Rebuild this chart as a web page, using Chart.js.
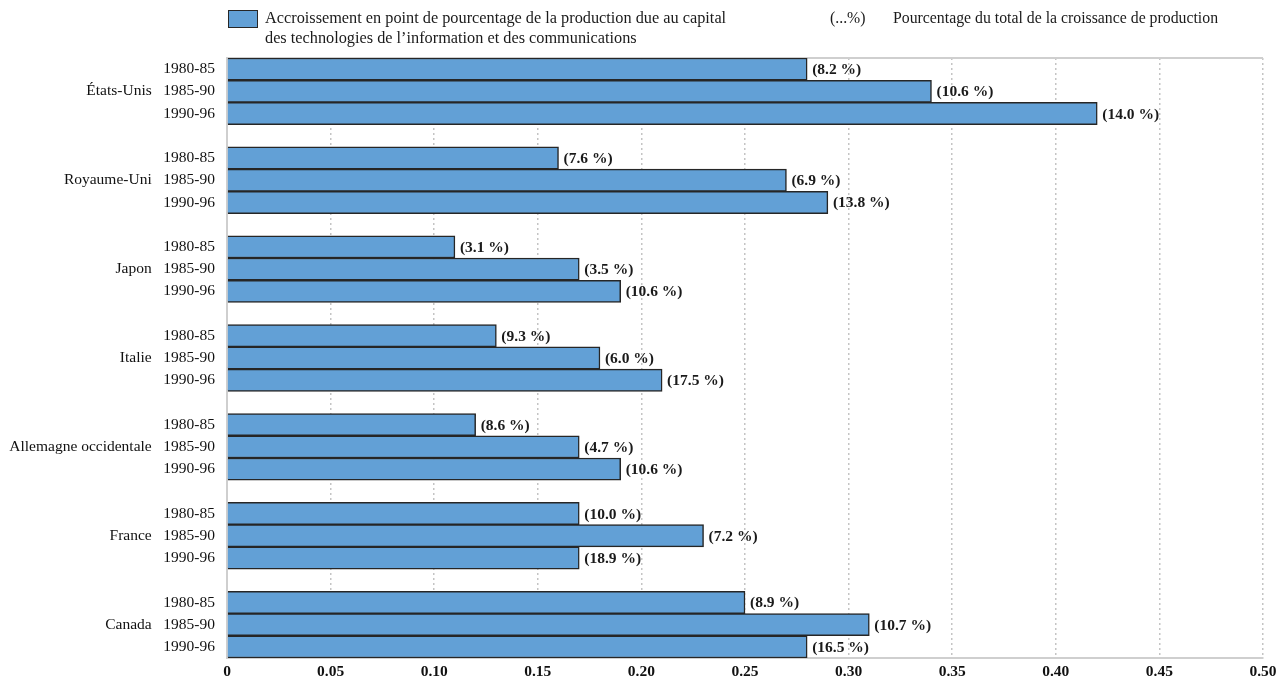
<!DOCTYPE html>
<html lang="fr">
<head>
<meta charset="utf-8">
<script src="https://cdn.jsdelivr.net/npm/chart.js@4"></script>
<style>
  html, body { margin: 0; padding: 0; background: #fff; }
  #wrap { position: relative; width: 1277px; height: 682px; }
  canvas { position: absolute; left: 0; top: 0; }
  .leg { position: absolute; font-family: "Liberation Serif", "Times New Roman", serif; font-size: 16.3px; color: #1a1a1a; line-height: 20px; white-space: nowrap; }
  .swatch { position: absolute; left: 228px; top: 10px; width: 28px; height: 16px; background: #62a0d6; border: 1.5px solid #262626; }
</style>
</head>
<body>
<div id="wrap">
  <canvas id="graphique" width="1277" height="682"></canvas>
  <div class="swatch"></div>
  <div class="leg" style="left:265px; top:8px;">Accroissement en point de pourcentage de la production due au capital<br>des technologies de l’information et des communications</div>
  <div class="leg" style="left:830px; top:8px; font-size:15.8px;">(...%)</div>
  <div class="leg" style="left:893px; top:8px; font-size:15.8px;">Pourcentage du total de la croissance de production</div>
</div>
<script>
// Pays et périodes
const pays = ["États-Unis", "Royaume-Uni", "Japon", "Italie", "Allemagne occidentale", "France", "Canada"];
const periodes = ["1980-85", "1985-90", "1990-96"];

// Contribution (points de pourcentage) par période
const contrib8085 = [0.28, 0.16, 0.11, 0.13, 0.12, 0.17, 0.25];
const contrib8590 = [0.34, 0.27, 0.17, 0.18, 0.17, 0.23, 0.31];
const contrib9096 = [0.42, 0.29, 0.19, 0.21, 0.19, 0.17, 0.28];

// Part du total de la croissance (%)
const part8085 = [8.2, 7.6, 3.1, 9.3, 8.6, 10.0, 8.9];
const part8590 = [10.6, 6.9, 3.5, 6.0, 4.7, 7.2, 10.7];
const part9096 = [14.0, 13.8, 10.6, 17.5, 10.6, 18.9, 16.5];

const graduations = [0, 0.05, 0.10, 0.15, 0.20, 0.25, 0.30, 0.35, 0.40, 0.45, 0.50];

const police = '"Liberation Serif", "Times New Roman", serif';

// Construction des lignes : 3 barres par pays + une ligne vide entre pays
const labels = [];
const valeurs = [];
const parts = [];
const series = [contrib8085, contrib8590, contrib9096];
const seriesParts = [part8085, part8590, part9096];
pays.forEach((p, i) => {
    periodes.forEach((per, j) => {
        labels.push(j === 1 ? p + "   " + per : per);
        valeurs.push(series[j][i]);
        parts.push(seriesParts[j][i]);
    });
    if (i < pays.length - 1) {
        labels.push("");
        valeurs.push(null);
        parts.push(null);
    }
});

function fmtPart(v) {
    return "(" + v.toFixed(1) + " %)";
}

// Étiquettes (x %) au bout des barres + bordure haute
const etiquettes = {
    id: "etiquettes",
    beforeDatasetsDraw(chart) {
        const a = chart.chartArea;
        const ctx = chart.ctx;
        ctx.save();
        ctx.strokeStyle = "#cfcfcf";
        ctx.lineWidth = 2;
        ctx.beginPath();
        ctx.moveTo(a.left, a.top);
        ctx.lineTo(a.right, a.top);
        ctx.stroke();
        ctx.restore();
    },
    afterDatasetsDraw(chart) {
        const ctx = chart.ctx;
        const meta = chart.getDatasetMeta(0);
        ctx.save();
        ctx.font = "bold 15.5px " + police;
        ctx.fillStyle = "#1a1a1a";
        ctx.textAlign = "left";
        ctx.textBaseline = "middle";
        meta.data.forEach((bar, i) => {
            if (parts[i] === null) return;
            ctx.fillText(fmtPart(parts[i]), bar.x + 5, bar.y + 1);
        });
        ctx.restore();
    }
};

const graphique = new Chart(document.getElementById("graphique"), {
    type: "bar",
    data: {
        labels: labels,
        datasets: [{
            data: valeurs,
            backgroundColor: "#62a0d6",
            borderColor: "#262626",
            borderWidth: 1.5,
            barPercentage: 1,
            categoryPercentage: 1
        }]
    },
    options: {
        indexAxis: "y",
        responsive: false,
        animation: false,
        layout: { padding: { top: 58, right: 14, left: 0, bottom: 0 } },
        plugins: { legend: { display: false }, tooltip: { enabled: false } },
        scales: {
            x: {
                min: 0,
                max: 0.5,
                afterBuildTicks(s) { s.ticks = graduations.map(v => ({ value: v })); },
                afterFit(s) { s.height = 24; s.paddingLeft = 0; s.paddingRight = 0; },
                ticks: {
                    padding: 5,
                    color: "#111",
                    font: { family: police, size: 15.5, weight: "bold" },
                    callback: v => v === 0 ? "0" : v.toFixed(2)
                },
                grid: {
                    drawTicks: false,
                    color: ctx => ctx.index === 0 ? "rgba(0,0,0,0)" : "#c4c4c4",
                    lineWidth: 1.5
                },
                border: { display: true, color: "#cfcfcf", width: 2, dash: [2, 3] }
            },
            y: {
                afterFit(s) { s.width = 227; },
                ticks: {
                    autoSkip: false,
                    padding: 12,
                    color: "#111",
                    font: { family: police, size: 15.5 }
                },
                grid: { display: false, drawTicks: false },
                border: { display: true, color: "#cfcfcf", width: 2 }
            }
        }
    },
    plugins: [etiquettes]
});
</script>
</body>
</html>
